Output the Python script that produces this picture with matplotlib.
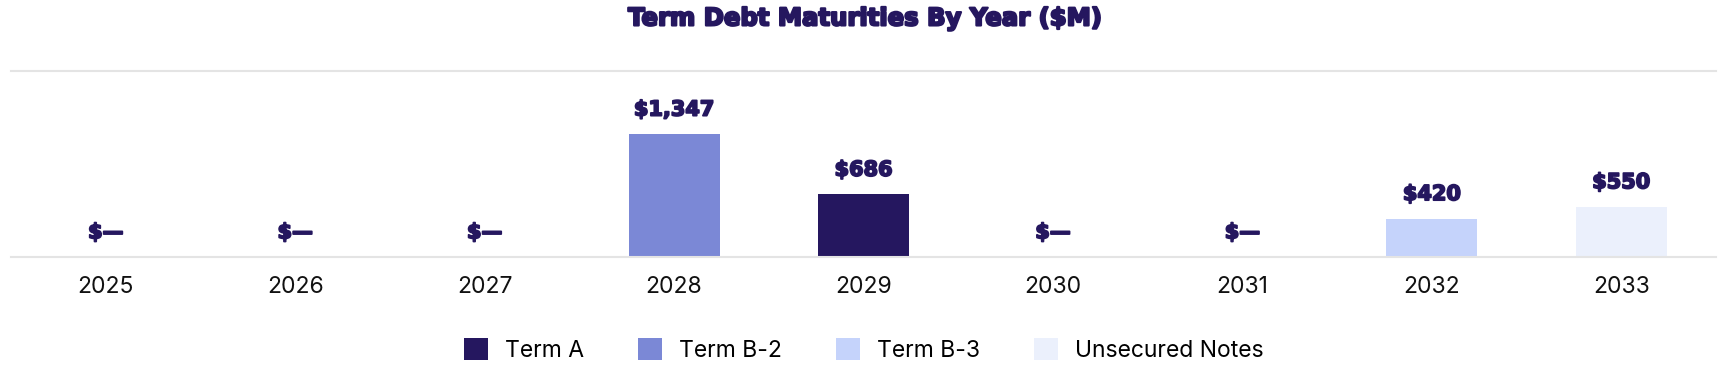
import matplotlib.pyplot as plt
import matplotlib.patheffects as pe
from matplotlib.patches import Patch

years = ["2025", "2026", "2027", "2028", "2029", "2030", "2031", "2032", "2033"]
amounts = [0, 0, 0, 1347, 686, 0, 0, 420, 550]
tranche = ["", "", "", "Term B-2", "Term A", "", "", "Term B-3", "Unsecured Notes"]
legend_names = ["Term A", "Term B-2", "Term B-3", "Unsecured Notes"]

navy = "#25175f"
colors = {"Term A": "#25175f", "Term B-2": "#7b88d6",
          "Term B-3": "#c5d3fb", "Unsecured Notes": "#ebf0fc", "": "white"}
grid_color = "#e4e4e4"
heavy = [pe.withStroke(linewidth=1.3, foreground=navy)]

plt.rcParams['font.family'] = ['Inter', 'DejaVu Sans']

fig = plt.figure(figsize=(17.28, 3.84), dpi=100)
ax = fig.add_axes([0.0064, 0.3307, 0.9867, 0.4843])

x = range(len(years))
bars = ax.bar(x, amounts, width=0.48, color=[colors[t] for t in tranche])

# value labels above each bar
for b, v in zip(bars, amounts):
    label = "$\u2014" if v == 0 else "${:,}".format(v)
    ax.annotate(label, xy=(b.get_x() + b.get_width() / 2, v),
                xytext=(0, 10.5), textcoords="offset points",
                ha="center", va="bottom", fontsize=15,
                fontweight="bold", color=navy, family="DejaVu Sans",
                path_effects=heavy)

ax.set_xlim(-0.5, len(years) - 0.5)
ax.set_ylim(0, 2040)
ax.set_xticks(list(x))
ax.set_xticklabels(years, fontsize=16.5, color="#111111")
ax.set_yticks([])
ax.tick_params(axis="x", length=0, pad=13.5)
for s in ["left", "right"]:
    ax.spines[s].set_visible(False)
for s in ["top", "bottom"]:
    ax.spines[s].set_color(grid_color)
    ax.spines[s].set_linewidth(1.5)

fig.text(0.5, 0.952, "Term Debt Maturities By Year ($M)", ha="center", va="center",
         fontsize=17.5, fontweight="bold", color=navy, family="DejaVu Sans",
         path_effects=[pe.withStroke(linewidth=1.6, foreground=navy)])

handles = [Patch(facecolor=colors[n], edgecolor="none", label=n) for n in legend_names]
fig.legend(handles=handles, loc="center", bbox_to_anchor=(0.5, 0.088), ncol=4,
           frameon=False, fontsize=16.5, handlelength=1.05, handleheight=1.05,
           handletextpad=0.75, columnspacing=2.35)

plt.savefig("out.png", dpi=100)
